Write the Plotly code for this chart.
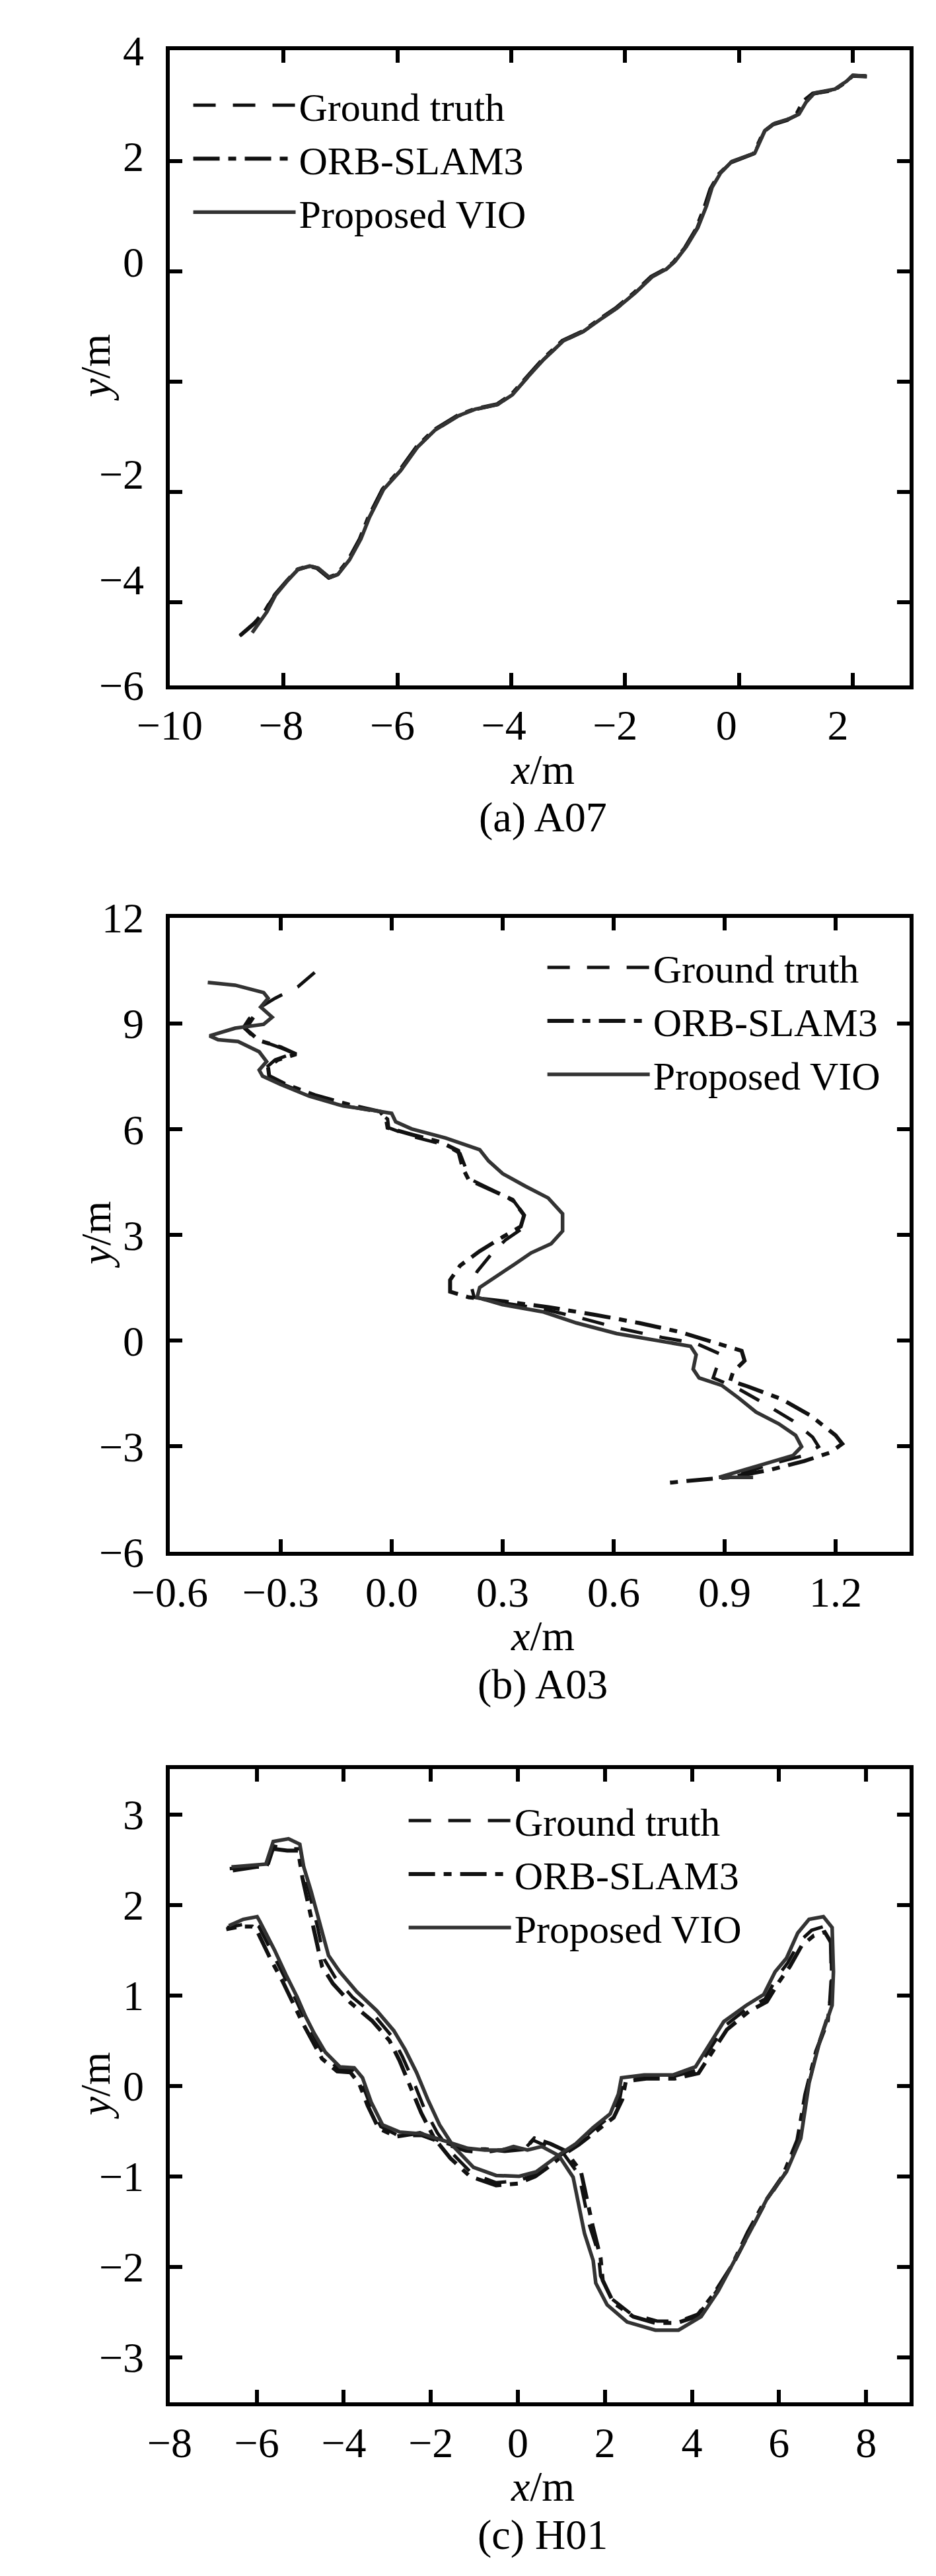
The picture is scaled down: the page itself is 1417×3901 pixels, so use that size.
import numpy as np
import plotly.graph_objects as go

# ---- (a) A07 ----
A07_GT_X = [-8.77, -8.52, -8.33, -8.16, -7.96, -7.75, -7.55, -7.40, -7.20, -7.05, -6.85, -6.65, -6.50, -6.25, -5.95, -5.65,
            -5.35, -4.94, -4.64, -4.24, -3.99, -3.74, -3.44, -3.09, -2.74, -2.44, -2.14, -1.84, -1.53, -1.28, -1.13, -0.93,
            -0.74, -0.59, -0.49, -0.34, -0.13, 0.27, 0.45, 0.62, 0.87, 1.05, 1.16, 1.31, 1.68, 1.88, 2.00, 2.26]
A07_GT_Y = [-6.61, -6.38, -6.15, -5.88, -5.63, -5.41, -5.35, -5.39, -5.56, -5.50, -5.24, -4.86, -4.47, -3.96, -3.62, -3.19,
            -2.89, -2.63, -2.51, -2.42, -2.25, -1.95, -1.61, -1.27, -1.10, -0.88, -0.67, -0.41, -0.11, 0.03, 0.17, 0.44,
            0.77, 1.16, 1.50, 1.77, 1.98, 2.13, 2.54, 2.67, 2.75, 2.84, 3.04, 3.21, 3.29, 3.43, 3.55, 3.54]
A07_ORB_X = [-8.76, -8.50, -8.31, -8.15, -7.95, -7.75, -7.55, -7.41, -7.21, -7.06, -6.86, -6.66, -6.51, -6.26, -5.96, -5.66,
             -5.36, -4.95, -4.65, -4.25, -4.00, -3.75, -3.45, -3.10, -2.75, -2.45, -2.15, -1.85, -1.54, -1.29, -1.15, -0.95,
             -0.76, -0.61, -0.50, -0.35, -0.14, 0.26, 0.44, 0.60, 0.85, 1.02, 1.13, 1.30, 1.67, 1.87, 2.00, 2.25]
A07_ORB_Y = [-6.60, -6.37, -6.13, -5.86, -5.62, -5.40, -5.34, -5.38, -5.55, -5.49, -5.23, -4.85, -4.46, -3.95, -3.61, -3.18,
             -2.88, -2.62, -2.50, -2.41, -2.24, -1.94, -1.60, -1.26, -1.09, -0.87, -0.66, -0.40, -0.10, 0.04, 0.16, 0.42,
             0.75, 1.14, 1.49, 1.76, 1.97, 2.13, 2.53, 2.66, 2.74, 2.86, 3.08, 3.22, 3.28, 3.42, 3.54, 3.53]
A07_VIO_X = [-8.55, -8.29, -8.14, -7.94, -7.74, -7.54, -7.39, -7.19, -7.04, -6.84, -6.64, -6.49, -6.24, -5.94, -5.64, -5.34,
             -4.93, -4.63, -4.23, -3.98, -3.73, -3.43, -3.08, -2.73, -2.43, -2.13, -1.83, -1.52, -1.27, -1.12, -0.92, -0.72,
             -0.57, -0.47, -0.32, -0.12, 0.28, 0.46, 0.63, 0.88, 1.06, 1.18, 1.33, 1.69, 1.89, 2.01, 2.24]
A07_VIO_Y = [-6.55, -6.17, -5.87, -5.62, -5.40, -5.34, -5.38, -5.55, -5.49, -5.23, -4.85, -4.46, -3.95, -3.61, -3.18, -2.88,
             -2.62, -2.50, -2.41, -2.24, -1.94, -1.60, -1.26, -1.09, -0.87, -0.66, -0.40, -0.10, 0.04, 0.18, 0.45, 0.79,
             1.18, 1.52, 1.78, 1.99, 2.14, 2.55, 2.68, 2.76, 2.85, 3.06, 3.23, 3.30, 3.44, 3.55, 3.53]

# ---- (b) A03 ----
A03_GT_X = [-0.208, -0.254, -0.315, -0.354, -0.385, -0.400, -0.369, -0.315, -0.262, -0.315, -0.338, -0.338, -0.292,
            -0.215, -0.123, -0.038, -0.011, -0.008, 0.054, 0.146, 0.185, 0.200, 0.215, 0.277, 0.331, 0.362, 0.354, 0.308,
            0.269, 0.231, 0.215, 0.223, 0.300, 0.408, 0.515, 0.623, 0.731, 0.823, 0.892, 0.877, 0.869, 0.931, 1.008,
            1.085, 1.138, 1.154, 1.115, 1.038, 0.962, 0.900]
A03_GT_Y = [10.45, 10.04, 9.72, 9.47, 9.14, 8.90, 8.57, 8.36, 8.17, 7.97, 7.76, 7.51, 7.27, 6.94, 6.66, 6.50, 6.29, 6.04,
            5.80, 5.55, 5.31, 4.90, 4.57, 4.25, 3.95, 3.51, 3.19, 2.86, 2.45, 1.96, 1.56, 1.23, 1.07, 0.90, 0.63, 0.33,
            0.09, -0.08, -0.40, -0.81, -1.06, -1.33, -1.79, -2.28, -2.74, -3.01, -3.26, -3.47, -3.71, -3.91]
A03_ORB_X = [-0.374, -0.395, -0.358, -0.300, -0.258, -0.308, -0.334, -0.331, -0.285, -0.208, -0.115, -0.031, -0.015,
             -0.011, 0.054, 0.131, 0.180, 0.192, 0.208, 0.269, 0.327, 0.358, 0.349, 0.300, 0.238, 0.185, 0.158, 0.158,
             0.208, 0.300, 0.423, 0.546, 0.669, 0.777, 0.869, 0.946, 0.954, 0.923, 0.915, 0.962, 1.054, 1.131, 1.200,
             1.218, 1.185, 1.115, 1.023, 0.915, 0.823, 0.746]
A03_ORB_Y = [9.18, 8.85, 8.52, 8.33, 8.13, 7.97, 7.76, 7.51, 7.27, 6.97, 6.70, 6.50, 6.29, 6.04, 5.85, 5.64, 5.39, 4.90,
             4.57, 4.28, 4.00, 3.56, 3.24, 2.94, 2.54, 2.13, 1.72, 1.39, 1.23, 1.12, 0.95, 0.74, 0.50, 0.25, -0.03, -0.29,
             -0.57, -0.89, -1.14, -1.30, -1.66, -2.12, -2.69, -2.93, -3.18, -3.42, -3.67, -3.88, -3.96, -4.04]
A03_VIO_X = [-0.497, -0.423, -0.346, -0.334, -0.354, -0.323, -0.346, -0.423, -0.492, -0.469, -0.415, -0.385, -0.358,
             -0.338, -0.358, -0.349, -0.300, -0.223, -0.131, -0.046, 0.000, 0.011, 0.054, 0.146, 0.238, 0.262, 0.300,
             0.362, 0.423, 0.462, 0.462, 0.431, 0.377, 0.331, 0.277, 0.238, 0.231, 0.300, 0.408, 0.500, 0.608, 0.715,
             0.808, 0.823, 0.815, 0.831, 0.892, 0.938, 0.985, 1.046, 1.092, 1.108, 1.085, 1.008, 0.938, 0.885, 0.977]
A03_VIO_Y = [10.17, 10.09, 9.88, 9.72, 9.47, 9.18, 8.98, 8.87, 8.65, 8.54, 8.49, 8.33, 8.20, 7.92, 7.68, 7.51, 7.27,
             6.94, 6.66, 6.53, 6.45, 6.21, 6.01, 5.75, 5.42, 5.10, 4.74, 4.38, 4.05, 3.60, 3.11, 2.75, 2.49, 2.16, 1.80,
             1.51, 1.23, 1.02, 0.82, 0.50, 0.20, 0.01, -0.16, -0.40, -0.81, -1.06, -1.27, -1.63, -2.03, -2.36, -2.69,
             -3.01, -3.26, -3.50, -3.72, -3.88, -3.88]

# ---- (c) H01 ----
H01_GT_X = [-6.62, -6.0, -5.75, -5.6, -5.3, -5.0, -4.9, -4.75, -4.6, -4.45, -4.2, -3.8, -3.3, -2.9, -2.65, -2.4, -2.15,
            -1.85, -1.5, -1.05, -0.5, 0.0, 0.4, 0.75, 1.0, 1.35, 1.75, 2.15, 2.35, 2.42, 2.9, 3.55, 4.1, 4.75, 5.28, 5.68,
            5.95, 6.2, 6.48, 6.75, 7.02, 7.18, 7.2, 7.15, 6.9, 6.65, 6.45, 6.12, 5.68, 5.35, 4.95, 4.55, 4.15, 3.7, 3.2,
            2.6, 2.15, 1.9, 1.85, 1.65, 1.4, 1.05, 0.6, 0.35, 0.1, -0.3, -0.8, -1.2, -1.7, -2.2, -2.75, -3.15, -3.4, -3.6,
            -3.8, -4.1, -4.45, -4.7, -4.9, -5.1, -5.35, -5.62, -5.95, -6.05, -6.35, -6.68]
H01_GT_Y = [2.40, 2.42, 2.43, 2.65, 2.62, 2.62, 2.35, 2.05, 1.75, 1.40, 1.20, 0.98, 0.78, 0.55, 0.32, 0.05, -0.25, -0.52,
            -0.75, -0.97, -1.07, -1.05, -0.98, -0.86, -0.76, -0.65, -0.48, -0.33, -0.12, 0.07, 0.10, 0.10, 0.17, 0.66,
            0.86, 0.96, 1.20, 1.36, 1.60, 1.72, 1.76, 1.65, 1.20, 0.82, 0.45, -0.05, -0.62, -0.98, -1.30, -1.60, -1.97,
            -2.28, -2.52, -2.60, -2.60, -2.52, -2.35, -2.10, -1.85, -1.55, -0.98, -0.75, -0.65, -0.60, -0.72, -0.70,
            -0.74, -0.72, -0.64, -0.55, -0.55, -0.45, -0.20, 0.05, 0.17, 0.18, 0.33, 0.55, 0.74, 0.95, 1.20, 1.45, 1.76,
            1.80, 1.78, 1.75]
H01_ORB_X = [-6.55, -6.0, -5.78, -5.62, -5.3, -5.05, -4.95, -4.8, -4.65, -4.5, -4.25, -3.85, -3.35, -2.95, -2.72, -2.48,
             -2.22, -1.92, -1.55, -1.1, -0.5, 0.0, 0.4, 0.75, 1.05, 1.4, 1.8, 2.2, 2.4, 2.48, 2.95, 3.6, 4.15, 4.8, 5.3,
             5.72, 6.0, 6.25, 6.52, 6.8, 7.05, 7.2, 7.22, 7.12, 6.85, 6.6, 6.42, 6.08, 5.62, 5.28, 4.9, 4.5, 4.1, 3.65,
             3.15, 2.65, 2.2, 1.95, 1.9, 1.72, 1.45, 1.1, 0.75, 0.38, 0.15, -0.3, -0.75, -1.2, -1.72, -2.25, -2.8, -3.2,
             -3.45, -3.65, -3.85, -4.15, -4.5, -4.75, -4.95, -5.15, -5.4, -5.68, -6.0, -6.1, -6.4, -6.7]
H01_ORB_Y = [2.38, 2.42, 2.42, 2.62, 2.60, 2.60, 2.30, 1.98, 1.68, 1.32, 1.13, 0.92, 0.72, 0.50, 0.28, 0.00, -0.30, -0.58,
             -0.80, -1.00, -1.10, -1.08, -1.00, -0.88, -0.76, -0.65, -0.50, -0.35, -0.15, 0.05, 0.08, 0.08, 0.14, 0.62,
             0.82, 0.93, 1.15, 1.32, 1.55, 1.66, 1.70, 1.58, 1.10, 0.72, 0.38, -0.10, -0.60, -1.00, -1.32, -1.62, -2.00,
             -2.30, -2.55, -2.62, -2.62, -2.55, -2.40, -2.15, -1.90, -1.55, -0.95, -0.72, -0.64, -0.58, -0.70, -0.72,
             -0.70, -0.70, -0.62, -0.52, -0.56, -0.47, -0.22, 0.03, 0.15, 0.16, 0.30, 0.52, 0.70, 0.90, 1.15, 1.40, 1.72,
             1.76, 1.76, 1.73]
H01_VIO_X = [-6.58, -5.79, -5.62, -5.27, -5.01, -4.92, -4.75, -4.55, -4.35, -4.09, -3.70, -3.24, -2.85, -2.59, -2.33,
             -2.07, -1.80, -1.48, -1.02, -0.50, 0.03, 0.42, 0.75, 1.01, 1.33, 1.73, 2.12, 2.31, 2.38, 2.90, 3.56, 4.08,
             4.73, 5.25, 5.65, 5.91, 6.17, 6.43, 6.69, 7.02, 7.22, 7.25, 7.22, 6.95, 6.69, 6.50, 6.17, 5.71, 5.39, 4.99,
             4.60, 4.21, 3.69, 3.16, 2.51, 2.05, 1.79, 1.73, 1.53, 1.27, 0.94, 0.55, 0.22, -0.10, -0.37, -0.76, -1.15,
             -1.67, -2.20, -2.72, -3.11, -3.37, -3.57, -3.76, -4.09, -4.42, -4.68, -4.88, -5.07, -5.33, -5.59, -5.92,
             -5.99, -6.31, -6.64]
H01_VIO_Y = [2.42, 2.45, 2.70, 2.73, 2.67, 2.42, 2.15, 1.81, 1.44, 1.26, 1.04, 0.83, 0.61, 0.40, 0.15, -0.15, -0.43,
             -0.67, -0.90, -0.99, -1.00, -0.95, -0.83, -0.74, -0.64, -0.46, -0.31, -0.09, 0.09, 0.12, 0.12, 0.21, 0.71,
             0.89, 1.01, 1.26, 1.41, 1.69, 1.84, 1.87, 1.75, 1.26, 0.89, 0.52, 0.03, -0.58, -0.95, -1.26, -1.56, -1.93,
             -2.27, -2.55, -2.70, -2.70, -2.61, -2.42, -2.18, -1.93, -1.63, -1.01, -0.77, -0.67, -0.71, -0.67, -0.71,
             -0.71, -0.69, -0.61, -0.53, -0.51, -0.43, -0.18, 0.09, 0.20, 0.21, 0.37, 0.58, 0.77, 0.98, 1.23, 1.50, 1.81,
             1.87, 1.84, 1.77]

SERIES = ["Ground truth", "ORB-SLAM3", "Proposed VIO"]

# ticks and labels
A07_XTICKS = [-10, -8, -6, -4, -2, 0, 2]
A07_XTEXT = ["−10", "−8", "−6", "−4", "−2", "0", "2"]
A07_YTICKS = [4, 2, 0, -2, -4, -6]
A07_YTEXT = ["4", "2", "0", "", "−2", "−4", "−6"]
# panel (a) prints its labels on a slightly tighter grid than its tick marks
A07_XLABEL_POS = np.linspace(-10, 1.74, len(A07_XTEXT))
A07_YLABEL_POS = np.linspace(4, -7.5, len(A07_YTEXT))
A03_XTICKS = [-0.6, -0.3, 0.0, 0.3, 0.6, 0.9, 1.2]
A03_XTEXT = ["−0.6", "−0.3", "0.0", "0.3", "0.6", "0.9", "1.2"]
A03_YTICKS = [12, 9, 6, 3, 0, -3, -6]
A03_YTEXT = ["12", "9", "6", "3", "0", "−3", "−6"]
H01_XTICKS = [-8, -6, -4, -2, 0, 2, 4, 6, 8]
H01_XTEXT = ["−8", "−6", "−4", "−2", "0", "2", "4", "6", "8"]
H01_YTICKS = [3, 2, 1, 0, -1, -2, -3]
H01_YTEXT = ["3", "2", "1", "0", "−1", "−2", "−3"]

W, H = 1417, 3901
FONT = "Liberation Serif, Times New Roman, serif"
FS = 64
LEG_FS = 60

STYLE = {
    "Ground truth": dict(color="#111111", width=5, dash="34px,26px"),
    "ORB-SLAM3": dict(color="#111111", width=6, dash="40px,13px,12px,13px"),
    "Proposed VIO": dict(color="#333333", width=5.5),
}

fig = go.Figure()

# panel (a) VIO sits on the overlay axes x4/y4 that carry the printed labels
panels = [
    (["x", "x", "x4"], ["y", "y", "y4"], "legend",
     [(A07_GT_X, A07_GT_Y), (A07_ORB_X, A07_ORB_Y), (A07_VIO_X, A07_VIO_Y)]),
    (["x2"] * 3, ["y2"] * 3, "legend2", [(A03_GT_X, A03_GT_Y), (A03_ORB_X, A03_ORB_Y), (A03_VIO_X, A03_VIO_Y)]),
    (["x3"] * 3, ["y3"] * 3, "legend3", [(H01_GT_X, H01_GT_Y), (H01_ORB_X, H01_ORB_Y), (H01_VIO_X, H01_VIO_Y)]),
]
for xas, yas, leg, series in panels:
    for name, xa, ya, (xs, ys) in zip(SERIES, xas, yas, series):
        fig.add_trace(go.Scatter(x=xs, y=ys, mode="lines", name=name, line=STYLE[name],
                                 xaxis=xa, yaxis=ya, legend=leg, hoverinfo="skip"))


def frame_axis(**kw):
    ax = dict(showline=True, linecolor="black", linewidth=6, mirror="ticks",
              ticks="inside", ticklen=19, tickwidth=6, tickcolor="black",
              showgrid=False, zeroline=False, tickmode="array",
              tickfont=dict(family=FONT, size=FS, color="black"))
    ax.update(kw)
    return ax


def label_axis(**kw):
    ax = dict(showline=True, linecolor="black", linewidth=6, ticks="", showgrid=False,
              zeroline=False, tickmode="array", tickfont=dict(family=FONT, size=FS, color="black"))
    ax.update(kw)
    return ax


def ydom(top, bottom):
    return [1 - bottom / H, 1 - top / H]


XDOM = [199 / W, 1367 / W]
PANEL_Y = [(34, 1013), (1372, 2350), (2685, 3662)]


def legend_at(left, top):
    return dict(x=left / W, y=1 - top / H, xanchor="left", yanchor="top",
                bgcolor="rgba(0,0,0,0)", borderwidth=0, itemwidth=155,
                font=dict(family=FONT, size=LEG_FS, color="black"))


def text_ann(text, x, y, **kw):
    a = dict(text=text, x=x, y=y, xref="paper", yref="paper", showarrow=False,
             xanchor="center", yanchor="middle", font=dict(family=FONT, size=FS, color="black"))
    a.update(kw)
    return a


annotations = []
for (top, bottom), cap in zip(PANEL_Y, ["(a) A07", "(b) A03", "(c) H01"]):
    annotations.append(text_ann("<i>x</i>/m", 788 / W, 1 - (bottom + 130) / H))
    annotations.append(text_ann(cap, 788 / W, 1 - (bottom + 204) / H))
    annotations.append(text_ann("<i>y</i>/m", 82 / W, 1 - (top + bottom) / 2 / H, textangle=-90))

fig.update_layout(
    width=W, height=H, margin=dict(l=0, r=0, t=0, b=0),
    paper_bgcolor="white", plot_bgcolor="white",
    font=dict(family=FONT, size=FS, color="black"),
    showlegend=True,
    xaxis=frame_axis(domain=XDOM, anchor="y", range=[-10, 3], tickvals=A07_XTICKS, showticklabels=False),
    yaxis=frame_axis(domain=ydom(*PANEL_Y[0]), anchor="x", range=[-7.5, 4], tickvals=A07_YTICKS,
                     showticklabels=False),
    xaxis4=label_axis(overlaying="x", anchor="y4", range=[-10, 3], tickvals=list(A07_XLABEL_POS),
                      ticktext=A07_XTEXT, ticklabelstandoff=0),
    yaxis4=label_axis(overlaying="y", anchor="x4", range=[-7.5, 4], tickvals=list(A07_YLABEL_POS),
                      ticktext=A07_YTEXT, ticklabelstandoff=20),
    xaxis2=frame_axis(domain=XDOM, anchor="y2", range=[-0.6, 1.4], tickvals=A03_XTICKS, ticktext=A03_XTEXT,
                      ticklabelstandoff=0),
    yaxis2=frame_axis(domain=ydom(*PANEL_Y[1]), anchor="x2", range=[-6, 12], tickvals=A03_YTICKS,
                      ticktext=A03_YTEXT, ticklabelstandoff=20),
    xaxis3=frame_axis(domain=XDOM, anchor="y3", range=[-8, 9], tickvals=H01_XTICKS, ticktext=H01_XTEXT,
                      ticklabelstandoff=0),
    yaxis3=frame_axis(domain=ydom(*PANEL_Y[2]), anchor="x3", range=[-3.5, 3.5], tickvals=H01_YTICKS,
                      ticktext=H01_YTEXT, ticklabelstandoff=20),
    legend=legend_at(231, 72),
    legend2=legend_at(790, 1402),
    legend3=legend_at(571, 2718),
    annotations=annotations,
)

fig.write_html("out.html")
